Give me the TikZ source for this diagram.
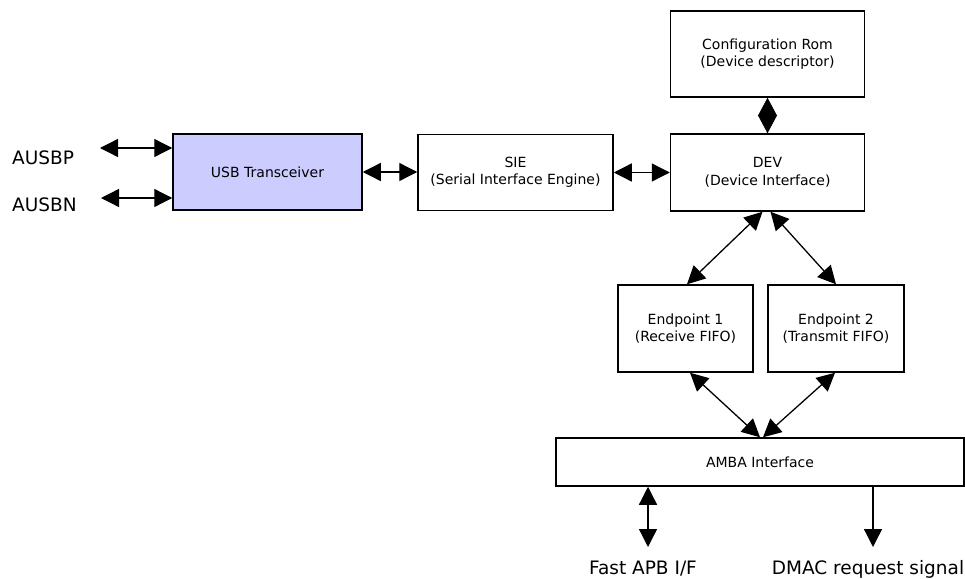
\documentclass[tikz,border=0pt]{standalone}
\usepackage{fontspec}
\setmainfont{DejaVu Sans}
\usetikzlibrary{arrows.meta}
\definecolor{usbfill}{HTML}{CCCCFF}
\tikzset{
  blk/.style={draw=black, line width=1.5pt, fill=white, inner sep=0pt, align=center,
    font=\fontsize{14}{17.5}\selectfont},
  lbl/.style={inner sep=0pt, font=\fontsize{18.5}{22}\selectfont},
  biarrow/.style={line width=1.3pt, {Triangle[length=18pt,width=18pt]}-{Triangle[length=18pt,width=18pt]}},
  onearrow/.style={line width=1.3pt, -{Triangle[length=18pt,width=18pt]}},
  diamondlink/.style={line width=0.6pt, {Triangle[length=18pt,width=19pt]}-{Triangle[length=18pt,width=19pt]}}
}
\begin{document}
\begin{tikzpicture}[x=1pt,y=-1pt]
\useasboundingbox (0,0) rectangle (965,578);
% boxes
\node[blk, fill=usbfill, minimum width=189pt, minimum height=76pt] (usb) at (267.5,172) {USB Transceiver};
\node[blk, minimum width=195pt, minimum height=76pt] (sie) at (515.5,172.5) {SIE\\(Serial Interface Engine)};
\node[blk, minimum width=194pt, minimum height=77pt] (dev) at (767.5,172.5) {DEV\\(Device Interface)};
\node[blk, minimum width=194pt, minimum height=86pt] (rom) at (767.5,54) {Configuration Rom\\(Device descriptor)};
\node[blk, minimum width=135pt, minimum height=87pt] (ep1) at (685.5,328.5) {Endpoint 1\\(Receive FIFO)};
\node[blk, minimum width=136pt, minimum height=87pt] (ep2) at (836,328.5) {Endpoint 2\\(Transmit FIFO)};
\node[blk, minimum width=408pt, minimum height=48pt] (amba) at (760,462) {AMBA Interface};
% labels
\node[lbl, anchor=west] (ausbp) at (12,158) {AUSBP};
\node[lbl, anchor=west] (ausbn) at (12,205) {AUSBN};
\node[lbl] (fapb) at (643,569) {Fast APB I/F};
\node[lbl] (dmac) at (868,569) {DMAC request signal};
% free ends
\coordinate (pa) at (100,148);
\coordinate (pn) at (101,198);
\coordinate (fa) at (648,547);
\coordinate (da) at (873,547);
% connectors
\draw[biarrow] (pa) -- (pa -| usb.west);
\draw[biarrow] (pn) -- (pn -| usb.west);
\draw[biarrow] (usb.east) -- (usb.east -| sie.west);
\draw[biarrow] (sie.east) -- (sie.east -| dev.west);
\draw[diamondlink] (rom.south) -- (dev.north);
\draw[biarrow] ([xshift=-5pt]dev.south) -- ([xshift=1.5pt]ep1.north);
\draw[biarrow] ([xshift=3pt]dev.south) -- (ep2.north);
\draw[biarrow] ([xshift=4.5pt]ep1.south) -- (amba.north);
\draw[biarrow] ([xshift=-1pt]ep2.south) -- ([xshift=3pt]amba.north);
\draw[biarrow] (fa |- amba.south) -- (fa);
\draw[onearrow] (da |- amba.south) -- (da);
\end{tikzpicture}
\end{document}
